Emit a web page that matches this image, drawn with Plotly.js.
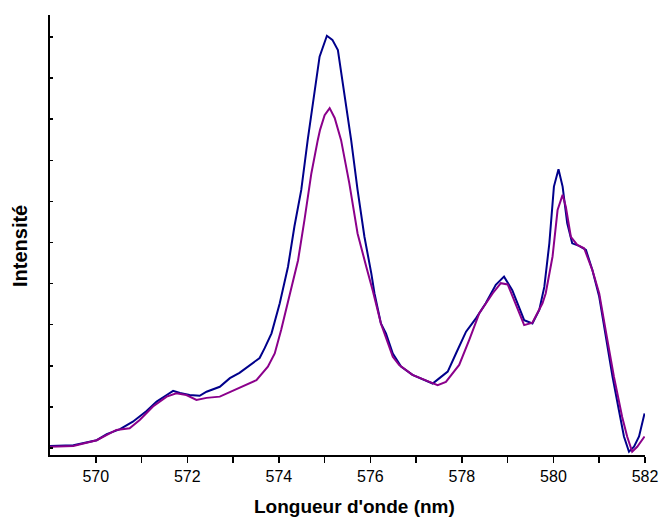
<!DOCTYPE html>
<html>
<head>
<meta charset="utf-8">
<script src="https://cdn.plot.ly/plotly-3.0.1.min.js"></script>
<style>html,body{margin:0;padding:0;background:#fff;}</style>
</head>
<body>
<div id="chart" style="width:661px;height:517px;"></div>
<script>
// Wavelength (nm) and intensity (arbitrary units)
const blueX = [569.00,569.51,570.02,570.24,570.53,570.81,571.11,571.33,571.55,571.69,571.84,572.05,572.27,572.42,572.71,572.93,573.14,573.36,573.58,573.69,573.84,574.02,574.20,574.34,574.49,574.63,574.74,574.89,575.05,575.17,575.29,575.47,575.58,575.72,575.87,576.02,576.09,576.23,576.34,576.49,576.67,576.92,577.14,577.36,577.51,577.69,577.87,578.09,578.31,578.52,578.74,578.92,579.10,579.21,579.36,579.54,579.69,579.80,579.91,580.01,580.11,580.20,580.30,580.41,580.56,580.71,580.85,581.00,581.14,581.29,581.43,581.54,581.65,581.76,581.87,581.99];
const blueY = [0.05,0.07,0.19,0.34,0.46,0.64,0.90,1.13,1.29,1.39,1.34,1.29,1.27,1.37,1.49,1.70,1.83,2.02,2.19,2.43,2.79,3.52,4.41,5.39,6.28,7.49,8.39,9.52,10.03,9.93,9.68,8.39,7.49,6.28,5.14,4.25,3.76,3.03,2.79,2.30,1.98,1.78,1.67,1.57,1.70,1.86,2.30,2.83,3.16,3.52,3.97,4.17,3.84,3.52,3.11,3.03,3.36,3.92,4.98,6.36,6.78,6.36,5.47,4.98,4.92,4.82,4.33,3.68,2.71,1.74,0.92,0.28,-0.09,0.03,0.28,0.84];

const purpleX = [569.00,569.51,570.02,570.45,570.74,570.96,571.25,571.55,571.76,571.98,572.20,572.42,572.71,573.14,573.51,573.76,573.91,574.05,574.23,574.42,574.56,574.71,574.85,574.90,575.00,575.11,575.22,575.36,575.54,575.72,575.91,576.05,576.23,576.49,576.63,576.92,577.29,577.47,577.65,577.94,578.16,578.38,578.67,578.85,579.00,579.18,579.36,579.54,579.76,579.83,579.98,580.09,580.20,580.27,580.38,580.52,580.67,580.85,581.00,581.14,581.32,581.50,581.61,581.72,581.83,581.99];
const purpleY = [0.03,0.05,0.19,0.44,0.48,0.68,1.01,1.25,1.33,1.29,1.17,1.22,1.25,1.46,1.65,1.98,2.30,2.87,3.68,4.57,5.55,6.68,7.49,7.74,8.10,8.27,8.03,7.49,6.44,5.22,4.41,3.84,3.03,2.22,2.02,1.78,1.61,1.53,1.61,2.02,2.63,3.28,3.76,4.01,3.98,3.48,2.99,3.05,3.52,3.76,4.66,5.79,6.16,5.87,5.14,4.94,4.86,4.33,3.76,2.87,1.74,0.76,0.28,-0.09,0.03,0.28];

const xTickVals = [570,571,572,573,574,575,576,577,578,579,580,581,582];
const xTickText = ['570','','572','','574','','576','','578','','580','','582'];

const FONT = 'Liberation Sans, Arial, sans-serif';

const traces = [
  {x: blueX, y: blueY, type: 'scatter', mode: 'lines', line: {color: '#00008B', width: 2}, hoverinfo: 'skip'},
  {x: purpleX, y: purpleY, type: 'scatter', mode: 'lines', line: {color: '#8B008B', width: 2}, hoverinfo: 'skip'}
];

const layout = {
  width: 661, height: 517,
  margin: {l: 50, r: 16, t: 15, b: 62},
  paper_bgcolor: '#fff', plot_bgcolor: '#fff',
  showlegend: false,
  font: {family: FONT, color: '#000', size: 16},
  xaxis: {
    range: [569, 582], showgrid: false, zeroline: false,
    showline: true, linecolor: '#000', linewidth: 2,
    ticks: 'outside', ticklen: 6, tickwidth: 1.5, tickcolor: '#000',
    tickvals: xTickVals, ticktext: xTickText,
    tickfont: {family: FONT, size: 16, color: '#000'}
  },
  yaxis: {
    range: [-0.17, 10.535], showgrid: false, zeroline: false,
    showline: true, linecolor: '#000', linewidth: 2,
    ticks: 'inside', ticklen: 3, tickwidth: 1.5, tickcolor: '#000',
    tick0: 0, dtick: 1, showticklabels: false
  },
  annotations: [
    {text: "<b>Longueur d'onde (nm)</b>", xref: 'paper', yref: 'paper',
     x: 0.511, y: -0.118, xanchor: 'center', yanchor: 'middle', showarrow: false,
     font: {family: FONT, size: 19, color: '#000'}},
    {text: '<b>Intensité</b>', xref: 'paper', yref: 'paper', textangle: -90,
     x: -0.0504, y: 0.475, xanchor: 'center', yanchor: 'middle', showarrow: false,
     font: {family: FONT, size: 20, color: '#000'}}
  ]
};

Plotly.newPlot('chart', traces, layout, {displayModeBar: false, staticPlot: true});
</script>
</body>
</html>
